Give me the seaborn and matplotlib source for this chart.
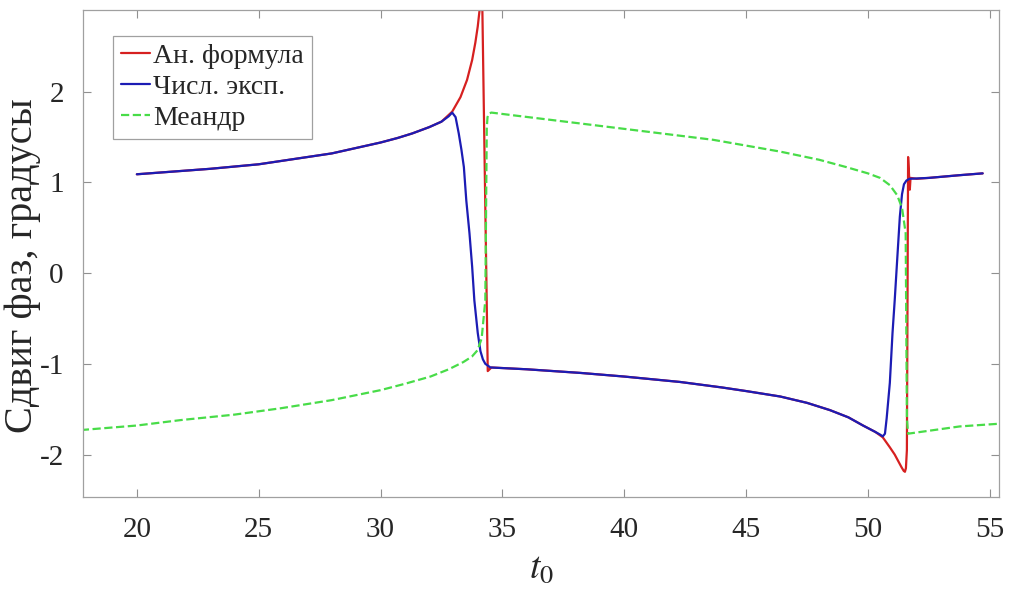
import numpy as np
import pandas as pd
import seaborn as sns
import matplotlib.pyplot as plt

# values
blue_x = [20, 21, 22, 23, 24, 25, 26, 27, 28, 29, 30, 30.7, 31.3, 32.0, 32.5, 32.8, 32.94,
          33.08, 33.21, 33.32, 33.42, 33.52, 33.65, 33.76, 33.85, 33.99, 34.10, 34.20, 34.30, 34.51,
          36, 38.2, 40, 42.3, 44, 45, 46.4, 47.5, 48.44, 49.2, 49.8, 50.3, 50.5, 50.61,
          50.7, 50.77, 50.9, 51.01, 51.1, 51.2, 51.31, 51.4, 51.48, 51.58, 51.7, 52.5, 53.77, 54.71]
blue_y = [1.09, 1.11, 1.13, 1.15, 1.175, 1.20, 1.24, 1.28, 1.32, 1.38, 1.44, 1.49, 1.54, 1.61, 1.67, 1.73, 1.77,
          1.72, 1.54, 1.36, 1.17, 0.80, 0.44, 0.07, -0.30, -0.66, -0.86, -0.95, -1.00, -1.04,
          -1.06, -1.10, -1.14, -1.20, -1.26, -1.30, -1.36, -1.43, -1.51, -1.59, -1.68, -1.75, -1.78, -1.80,
          -1.77, -1.60, -1.21, -0.66, -0.30, 0.14, 0.62, 0.87, 0.98, 1.02, 1.04, 1.05, 1.08, 1.10]

red_x = [20, 21, 22, 23, 24, 25, 26, 27, 28, 29, 30, 30.7, 31.3, 32.0, 32.5, 32.94,
         33.28, 33.55, 33.76, 33.89, 33.99, 34.06, 34.10, 34.14, 34.18, 34.40, 34.55,
         36, 38.2, 40, 42.3, 44, 45, 46.4, 47.5, 48.44, 49.2, 49.8, 50.3, 50.61,
         50.9, 51.1, 51.24, 51.38, 51.47, 51.52, 51.56, 51.60, 51.65, 51.72, 51.75, 52.0, 52.5, 53.77, 54.71]
red_y = [1.09, 1.11, 1.13, 1.15, 1.175, 1.20, 1.24, 1.28, 1.32, 1.38, 1.44, 1.49, 1.54, 1.61, 1.67, 1.78,
         1.94, 2.13, 2.35, 2.54, 2.72, 2.89, 3.6, 3.6, 2.89, -1.08, -1.04,
         -1.06, -1.10, -1.14, -1.20, -1.26, -1.30, -1.36, -1.43, -1.51, -1.59, -1.68, -1.75, -1.81,
         -1.92, -2.00, -2.07, -2.14, -2.18, -2.19, -2.15, -1.95, 1.28, 0.92, 1.05, 1.04, 1.05, 1.08, 1.10]

green_x = [17.7, 20, 21.8, 24, 25.9, 28, 30.0, 31, 32.05, 32.8, 33.4, 33.75, 33.98, 34.15, 34.3, 34.36, 34.39,
           34.45, 34.55, 35.45, 38.2, 40.93, 43.65, 46.4, 48, 49.1, 50.0, 50.5, 50.9, 51.2, 51.4, 51.55, 51.6, 51.65,
           53.77, 55.4]
green_y = [-1.73, -1.68, -1.62, -1.56, -1.49, -1.40, -1.29, -1.22, -1.14, -1.06, -0.98, -0.92, -0.85, -0.72, -0.30, 1.60, 1.72,
           1.76, 1.77, 1.74, 1.65, 1.56, 1.47, 1.34, 1.25, 1.17, 1.10, 1.05, 0.97, 0.86, 0.72, 0.44, -1.60, -1.77,
           -1.69, -1.66]

labels = ['Ан. формула', 'Числ. эксп.', 'Меандр']
x_ticks = [20, 25, 30, 35, 40, 45, 50, 55]
y_ticks = [-2, -1, 0, 1, 2]

sns.set_style('ticks')
plt.rcParams['font.family'] = ['Liberation Serif', 'DejaVu Serif']
plt.rcParams['mathtext.fontset'] = 'stix'
plt.rcParams['axes.unicode_minus'] = False

fig = plt.figure(figsize=(10.15, 5.94), dpi=100)
ax = fig.add_axes([0.082, 0.163, 0.902, 0.82])

red = pd.DataFrame({'x': red_x, 'y': red_y})
blue = pd.DataFrame({'x': blue_x, 'y': blue_y})
green = pd.DataFrame({'x': green_x, 'y': green_y})

sns.lineplot(data=red, x='x', y='y', sort=False, estimator=None, color='#d62020',
             linewidth=1.6, label=labels[0], ax=ax)
sns.lineplot(data=blue, x='x', y='y', sort=False, estimator=None, color='#1c1cb4',
             linewidth=1.6, label=labels[1], ax=ax)
sns.lineplot(data=green, x='x', y='y', sort=False, estimator=None, color='#48dc48',
             linewidth=1.6, linestyle='--', dashes=(4, 2.6), label=labels[2], ax=ax)

ax.set_xlim(17.8, 55.37)
ax.set_ylim(-2.47, 2.9)
ax.set_xticks(x_ticks)
ax.set_yticks(y_ticks)
ax.tick_params(direction='in', length=6, width=0.8, color='#909090',
               top=True, right=True, labelsize=21, pad=14)
for s in ax.spines.values():
    s.set_color('#a0a0a0')
    s.set_linewidth(0.9)

ax.set_xlabel(r'$t_0$', fontsize=27, labelpad=6)
ax.set_ylabel('Сдвиг фаз, градусы', fontsize=29)
ax.yaxis.set_label_coords(-0.046, 0.476)

leg = ax.legend(loc='upper left', bbox_to_anchor=(0.033, 0.947), fontsize=20,
                handlelength=1.05, handletextpad=0.1, labelspacing=0.2,
                borderpad=0.28, borderaxespad=0, fancybox=False, framealpha=1,
                edgecolor='#a0a0a0')
leg.get_frame().set_linewidth(0.9)

fig.savefig('out.png', dpi=100)
plt.close()
